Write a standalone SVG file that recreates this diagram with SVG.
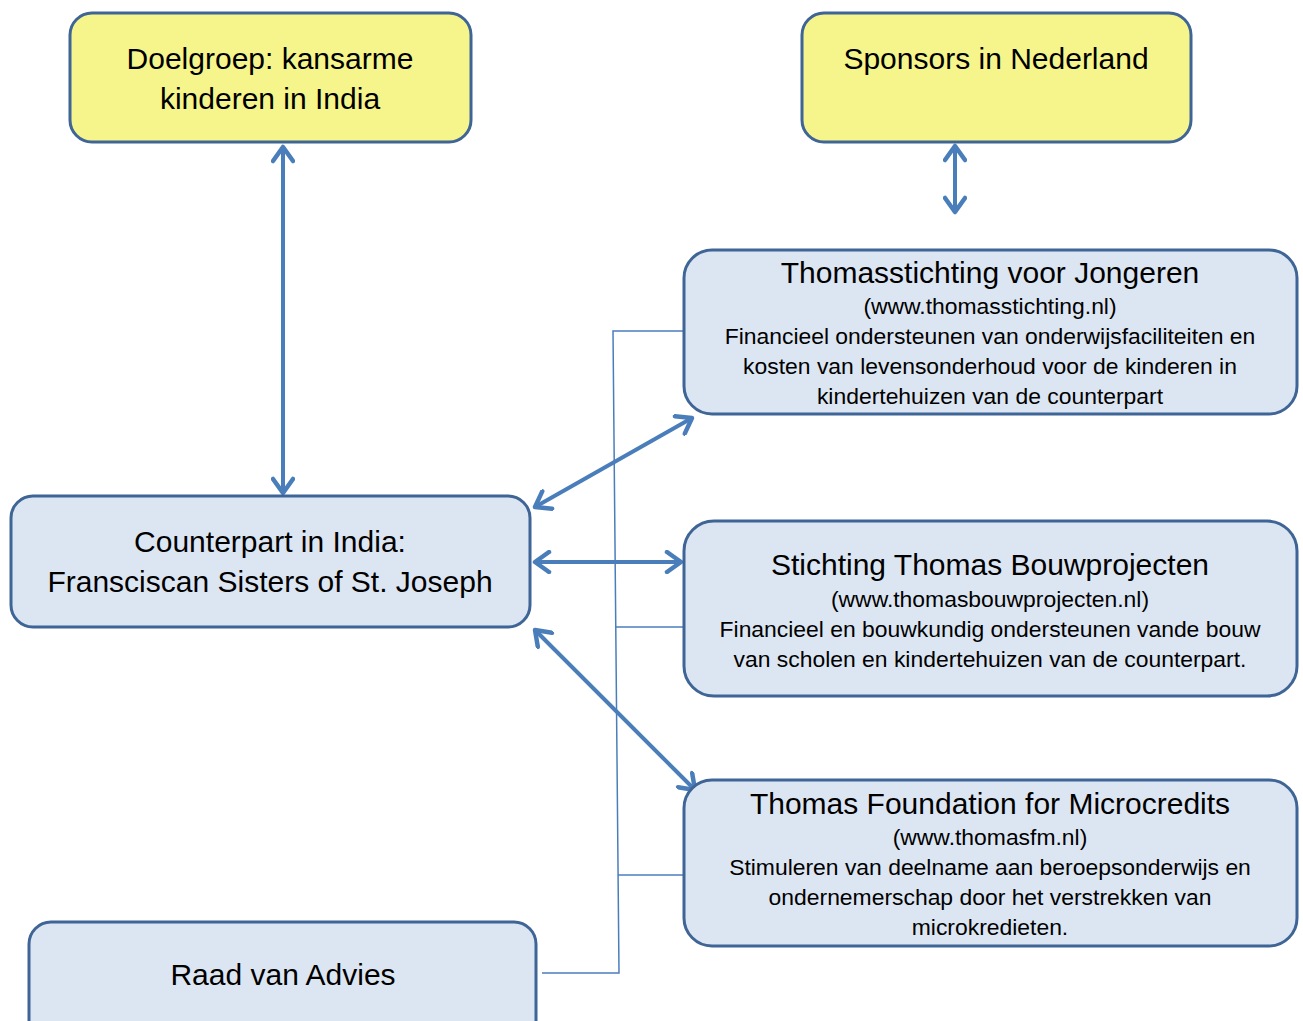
<svg xmlns="http://www.w3.org/2000/svg" width="1303" height="1021" viewBox="0 0 1303 1021">
<defs>
<style>
.box{fill:#DCE6F2;stroke:#3F6596;stroke-width:3}
.ybox{fill:#F5F58C;stroke:#3F6596;stroke-width:3}
.t{font-family:"Liberation Sans",Arial,sans-serif;fill:#000;text-anchor:middle}
.big{font-size:30px}
.sm{font-size:22.9px}
.arr{stroke:#4A7EBB;stroke-width:4;fill:none;marker-start:url(#ah);marker-end:url(#ah)}
.thin{stroke:#4A7EBB;stroke-width:1.5;fill:none}
</style>
<marker id="ah" viewBox="0 0 20 24" markerWidth="20" markerHeight="24" refX="17" refY="12" orient="auto-start-reverse" markerUnits="userSpaceOnUse">
<path d="M3,2 L17,12 L3,22" fill="none" stroke="#4A7EBB" stroke-width="4.5" stroke-linecap="round" stroke-linejoin="round"/>
</marker>
</defs>
<g id="connectors">
<path class="thin" d="M684,331 H613 L619,973 H542"/>
<path class="thin" d="M616,627 H684"/>
<path class="thin" d="M618,875 H684"/>
<line class="arr" x1="283" y1="147" x2="283" y2="493"/>
<line class="arr" x1="955" y1="146" x2="955" y2="212"/>
<line class="arr" x1="535" y1="507" x2="692" y2="418"/>
<line class="arr" x1="535" y1="562" x2="681" y2="562"/>
<line class="arr" x1="535" y1="630" x2="695" y2="790"/>
</g>
<g id="doelgroep">
<rect class="ybox" x="70" y="13" width="401" height="129" rx="22"/>
<text class="t big" x="270" y="69">Doelgroep:  kansarme</text>
<text class="t big" x="270" y="109">kinderen in India</text>
</g>
<g id="sponsors">
<rect class="ybox" x="802" y="13" width="389" height="129" rx="22"/>
<text class="t big" x="996" y="69">Sponsors in Nederland</text>
</g>
<g id="thomasstichting">
<rect class="box" x="684" y="250" width="613" height="164" rx="28"/>
<text class="t big" x="990" y="283">Thomasstichting voor Jongeren</text>
<text class="t sm" x="990" y="314">(www.thomasstichting.nl)</text>
<text class="t sm" x="990" y="344">Financieel ondersteunen van onderwijsfaciliteiten en</text>
<text class="t sm" x="990" y="374">kosten van levensonderhoud voor de kinderen in</text>
<text class="t sm" x="990" y="404">kindertehuizen van de counterpart</text>
</g>
<g id="counterpart">
<rect class="box" x="11" y="496" width="519" height="131" rx="22"/>
<text class="t big" x="270" y="552">Counterpart in India:</text>
<text class="t big" x="270" y="592">Fransciscan Sisters of St. Joseph</text>
</g>
<g id="bouwprojecten">
<rect class="box" x="684" y="521" width="613" height="175" rx="30"/>
<text class="t big" x="990" y="575">Stichting Thomas Bouwprojecten</text>
<text class="t sm" x="990" y="607">(www.thomasbouwprojecten.nl)</text>
<text class="t sm" x="990" y="637">Financieel en bouwkundig ondersteunen vande bouw</text>
<text class="t sm" x="990" y="667">van scholen en kindertehuizen van de counterpart.</text>
</g>
<g id="microcredits">
<rect class="box" x="684" y="780" width="613" height="166" rx="28"/>
<text class="t big" x="990" y="814">Thomas Foundation for Microcredits</text>
<text class="t sm" x="990" y="845">(www.thomasfm.nl)</text>
<text class="t sm" x="990" y="875">Stimuleren van deelname aan beroepsonderwijs en</text>
<text class="t sm" x="990" y="905">ondernemerschap door het verstrekken van</text>
<text class="t sm" x="990" y="935">microkredieten.</text>
</g>
<g id="raad">
<rect class="box" x="29" y="922" width="507" height="130" rx="22"/>
<text class="t big" x="283" y="985">Raad van Advies</text>
</g>
</svg>
